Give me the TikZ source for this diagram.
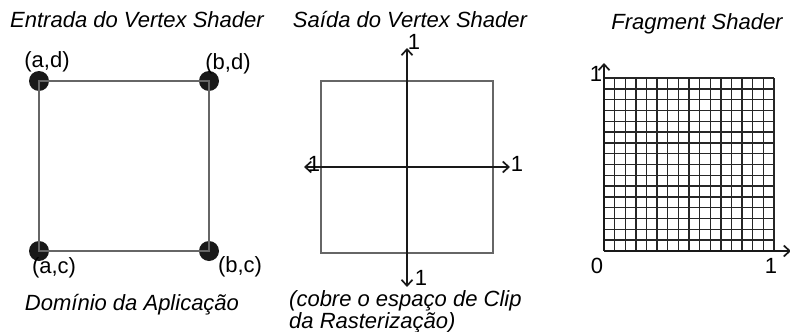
\documentclass[tikz,border=0pt]{standalone}
\usepackage{fontspec}
\setmainfont{Liberation Sans}
\usetikzlibrary{arrows.meta}
\begin{document}
\begin{tikzpicture}[x=1pt,y=-1pt,
  lbl/.style={inner sep=0pt,font=\fontsize{22}{26}\selectfont},
  ttl/.style={inner sep=0pt,font=\fontsize{22}{26}\selectfont\itshape},
  dot/.style={circle,fill=black!90,minimum size=20pt,inner sep=0pt},
  thinbox/.style={draw=black!60,line width=1.2pt},
  axis/.style={draw=black!90,line width=2pt,-{Straight Barb[length=6pt,width=11pt,line width=1.7pt]}},
  gridl/.style={draw=black!85,line width=1.4pt}]
\useasboundingbox (0,0) rectangle (790,332);
% left panel
\node[ttl] (t1) at (137,20) {Entrada do Vertex Shader};
\node[dot] (ad) at (39,81) {};
\node[dot] (bd) at (209,81) {};
\node[dot] (ac) at (39,251) {};
\node[dot] (bc) at (209,251) {};
\draw[thinbox] (ad.center) -- (bd.center) -- (bc.center) -- (ac.center) -- cycle;
\node[lbl] (lad) at (47,62) {(a,d)};
\node[lbl] (lbd) at (228,64) {(b,d)};
\node[lbl] (lac) at (54,268) {(a,c)};
\node[lbl] (lbc) at (240,267) {(b,c)};
\node[ttl] (d1) at (132,305) {Domínio da Aplicação};
% middle panel
\node[ttl] (t2) at (410,20) {Saída do Vertex Shader};
\coordinate (sq1) at (321,81);
\coordinate (sq2) at (493,253);
\draw[thinbox] (sq1) rectangle (sq2);
\coordinate (o) at (407,167);
\coordinate (xr) at (510,167);
\coordinate (xl) at (304,167);
\coordinate (yt) at (407,48);
\coordinate (yb) at (407,287);
\draw[axis] (o) -- (xr);
\draw[axis] (o) -- (xl);
\draw[axis] (o) -- (yt);
\draw[axis] (o) -- (yb);
\node[lbl] (n1t) at (414,42) {1};
\node[lbl] (n1r) at (517,164) {1};
\node[lbl] (n1l) at (314,164) {1};
\node[lbl] (n1b) at (421,278) {1};
\node[ttl,anchor=west] (c1) at (289,301) {(cobre o espaço de Clip};
\node[ttl,anchor=west] (c2) at (289,323) {da Rasterização)};
% right panel
\node[ttl] (t3) at (697,24) {Fragment Shader};
\foreach \i in {0,...,16} {
  \draw[gridl] ({604+\i*170/16},78) -- ({604+\i*170/16},251);
  \draw[gridl] (604,{78+\i*173/16}) -- (774,{78+\i*173/16});
}
\coordinate (go) at (604,251);
\coordinate (gx) at (791,251);
\coordinate (gy) at (604,63);
\draw[axis] (go) -- (gx);
\draw[axis] (go) -- (gy);
\node[lbl] (g1t) at (596,74) {1};
\node[lbl] (g0) at (597,266) {0};
\node[lbl] (g1r) at (771,266) {1};
\end{tikzpicture}
\end{document}
